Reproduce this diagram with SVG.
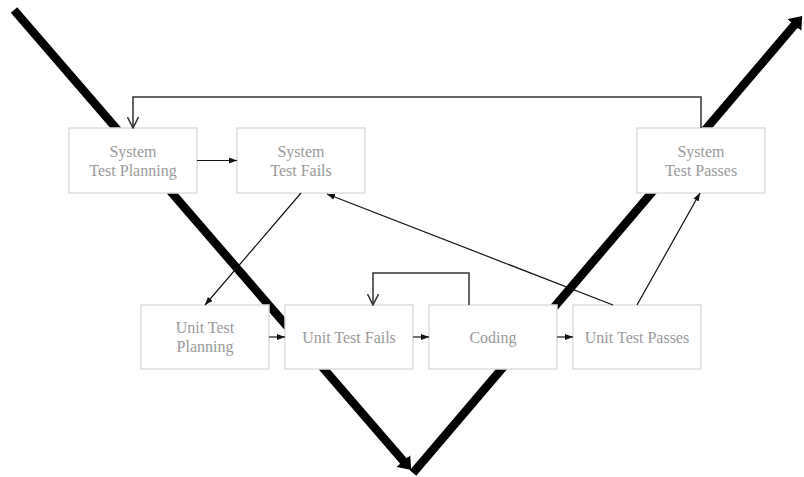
<svg xmlns="http://www.w3.org/2000/svg" width="804" height="477" viewBox="0 0 804 477">
  <defs>
    <style>
      .box rect { fill: #ffffff; stroke: #dedede; stroke-width: 1.5; }
      .box text { font-family: 'Liberation Serif', 'Times New Roman', Times, serif; font-size: 16px; fill: #9a9a9a; text-anchor: middle; }
      .thick { stroke: #000000; stroke-width: 8.5; fill: none; }
      .link { stroke: #111111; stroke-width: 1.2; fill: none; }
      .loop { stroke: #333333; stroke-width: 1.5; fill: none; }
    </style>
    <marker id="bigHead" viewBox="0 0 12 18" refX="4" refY="9" markerWidth="12" markerHeight="18" markerUnits="userSpaceOnUse" orient="auto">
      <path d="M0,0 L12,9 L0,18 z" fill="#000000"/>
    </marker>
    <marker id="solidHead" viewBox="0 0 8 6" refX="8" refY="3" markerWidth="8" markerHeight="6" markerUnits="userSpaceOnUse" orient="auto">
      <path d="M0,0 L8,3 L0,6 z" fill="#111111"/>
    </marker>
    <marker id="openHead" viewBox="0 0 12 12" refX="11" refY="6" markerWidth="12" markerHeight="12" markerUnits="userSpaceOnUse" orient="auto">
      <path d="M0,0.5 L11,6 L0,11.5" fill="none" stroke="#333333" stroke-width="1.5"/>
    </marker>
  </defs>

  <!-- V-model backbone -->
  <g id="backbone">
    <path class="thick" d="M14,10 L406,464" marker-end="url(#bigHead)"/>
    <path class="thick" d="M413,473 L797,22" marker-end="url(#bigHead)"/>
  </g>

  <!-- nodes -->
  <g id="system-test-planning" class="box">
    <rect x="69" y="128" width="128" height="65"/>
    <text x="133" y="157">System</text>
    <text x="133" y="176">Test Planning</text>
  </g>
  <g id="system-test-fails" class="box">
    <rect x="237" y="128" width="128" height="65"/>
    <text x="301" y="157">System</text>
    <text x="301" y="176">Test Fails</text>
  </g>
  <g id="system-test-passes" class="box">
    <rect x="637" y="128" width="128" height="65"/>
    <text x="701" y="157">System</text>
    <text x="701" y="176">Test Passes</text>
  </g>
  <g id="unit-test-planning" class="box">
    <rect x="141" y="305" width="128" height="64"/>
    <text x="205" y="333">Unit Test</text>
    <text x="205" y="352">Planning</text>
  </g>
  <g id="unit-test-fails" class="box">
    <rect x="285" y="305" width="128" height="64"/>
    <text x="349" y="343">Unit Test Fails</text>
  </g>
  <g id="coding" class="box">
    <rect x="429" y="305" width="128" height="64"/>
    <text x="493" y="343">Coding</text>
  </g>
  <g id="unit-test-passes" class="box">
    <rect x="573" y="305" width="128" height="64"/>
    <text x="637" y="343">Unit Test Passes</text>
  </g>

  <!-- connectors -->
  <g id="connectors">
    <path class="link" d="M197,160.5 L237,160.5" marker-end="url(#solidHead)"/>
    <path class="link" d="M301,193 L205,305" marker-end="url(#solidHead)"/>
    <path class="link" d="M269,337 L285,337" marker-end="url(#solidHead)"/>
    <path class="link" d="M413,337 L429,337" marker-end="url(#solidHead)"/>
    <path class="link" d="M557,337 L573,337" marker-end="url(#solidHead)"/>
    <path class="link" d="M613,305 L327,194" marker-end="url(#solidHead)"/>
    <path class="link" d="M637,305 L700,193" marker-end="url(#solidHead)"/>
    <path class="loop" d="M701,128 V97 H133 V128" marker-end="url(#openHead)"/>
    <path class="loop" d="M469,305 V273 H373 V305" marker-end="url(#openHead)"/>
  </g>
</svg>
